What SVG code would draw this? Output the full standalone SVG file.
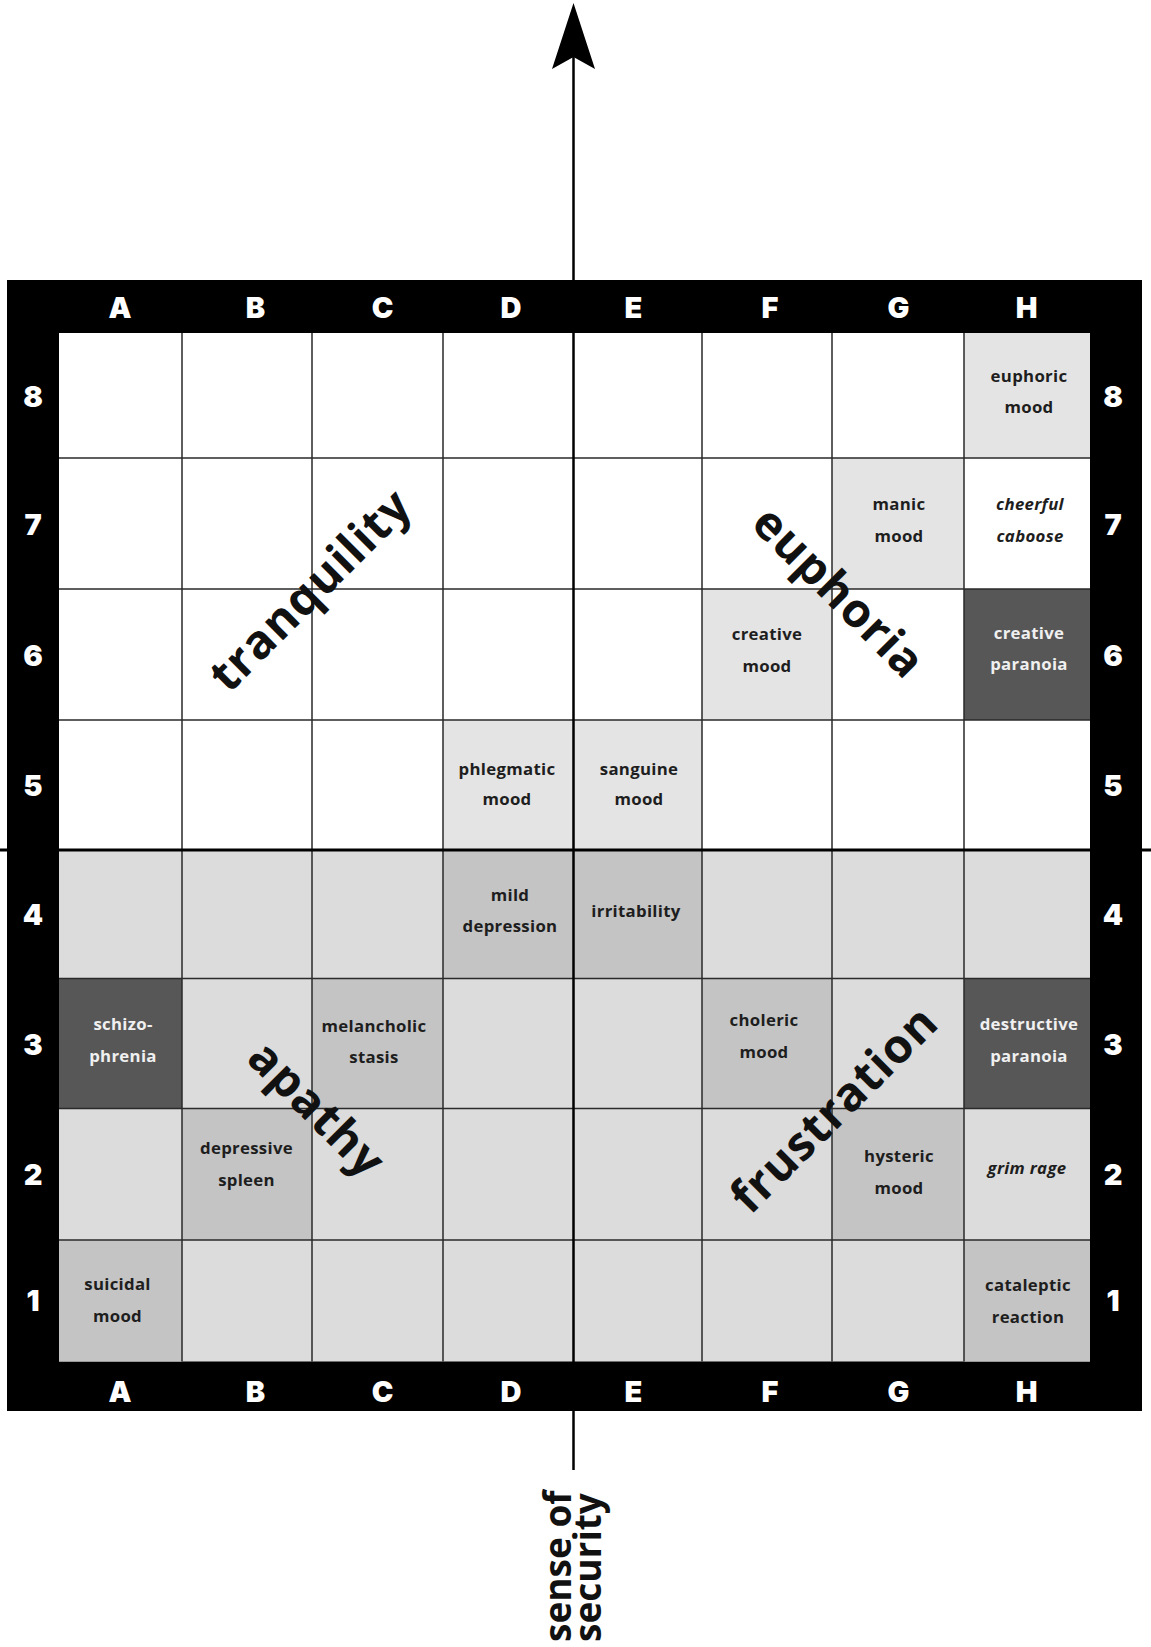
<svg xmlns="http://www.w3.org/2000/svg" width="1151" height="1647" viewBox="0 0 1151 1647">
<style>
.lbl{font-family:Inter,"Liberation Sans",sans-serif;font-weight:900;font-size:29px;fill:#fff;text-anchor:middle}
.t{font-family:"Open Sans","Noto Sans",sans-serif;font-weight:700;font-size:16.8px;letter-spacing:0.3px;fill:#1e1e1e;text-anchor:middle}
.w{fill:#f0f0f0}
.i{font-style:italic}
.big{font-family:"Open Sans","Noto Sans",sans-serif;font-weight:700;font-size:47px;letter-spacing:1px;fill:#111;text-anchor:middle}
.ax{font-family:"Open Sans","Noto Sans",sans-serif;font-weight:700;font-size:37px;fill:#111}
.lt{fill:#e4e4e4}.md{fill:#c4c4c4}.dk{fill:#575757}
.grid{stroke:#2a2a2a;stroke-width:1.5;fill:none}
</style>
<rect width="1151" height="1647" fill="#fff"/>
<g id="frame">
<rect x="7" y="280" width="1135" height="1131" fill="#000"/>
<rect x="59" y="333" width="1031" height="517" fill="#fff"/>
<rect x="59" y="850" width="1031" height="511.5" fill="#dcdcdc"/>
</g>
<g id="cells">
<g id="H8"><rect class="lt" x="964" y="333" width="126" height="125"/><text class="t" x="1029" y="382">euphoric</text><text class="t" x="1029" y="413">mood</text></g>
<g id="G7"><rect class="lt" x="832" y="458" width="132" height="131"/><text class="t" x="899" y="510">manic</text><text class="t" x="899" y="541.5">mood</text></g>
<g id="H7"><text class="t i" x="1030" y="510">cheerful</text><text class="t i" x="1030" y="541.5">caboose</text></g>
<g id="F6"><rect class="lt" x="702" y="589" width="130" height="131"/><text class="t" x="767" y="640">creative</text><text class="t" x="767" y="671.5">mood</text></g>
<g id="H6"><rect class="dk" x="964" y="589" width="126" height="131"/><text class="t w" x="1029" y="638.5">creative</text><text class="t w" x="1029" y="670">paranoia</text></g>
<g id="D5"><rect class="lt" x="443" y="720" width="130.5" height="130"/><text class="t" x="507" y="775">phlegmatic</text><text class="t" x="507" y="805">mood</text></g>
<g id="E5"><rect class="lt" x="573.5" y="720" width="128.5" height="130"/><text class="t" x="639" y="775">sanguine</text><text class="t" x="639" y="805">mood</text></g>
<g id="D4"><rect class="md" x="443" y="850" width="130.5" height="128.5"/><text class="t" x="510" y="900.5">mild</text><text class="t" x="510" y="932">depression</text></g>
<g id="E4"><rect class="md" x="573.5" y="850" width="128.5" height="128.5"/><text class="t" x="636" y="917">irritability</text></g>
<g id="A3"><rect class="dk" x="59" y="978.5" width="123" height="130"/><text class="t w" x="123" y="1030">schizo-</text><text class="t w" x="123" y="1061.5">phrenia</text></g>
<g id="C3"><rect class="md" x="312" y="978.5" width="131" height="130"/><text class="t" x="374" y="1031.5">melancholic</text><text class="t" x="374" y="1063">stasis</text></g>
<g id="F3"><rect class="md" x="702" y="978.5" width="130" height="130"/><text class="t" x="764" y="1026">choleric</text><text class="t" x="764" y="1057.5">mood</text></g>
<g id="H3"><rect class="dk" x="964" y="978.5" width="126" height="130"/><text class="t w" x="1029" y="1030">destructive</text><text class="t w" x="1029" y="1061.5">paranoia</text></g>
<g id="B2"><rect class="md" x="182" y="1108.5" width="130" height="131.5"/><text class="t" x="246.5" y="1154">depressive</text><text class="t" x="246.5" y="1186">spleen</text></g>
<g id="G2"><rect class="md" x="832" y="1108.5" width="132" height="131.5"/><text class="t" x="899" y="1162">hysteric</text><text class="t" x="899" y="1194">mood</text></g>
<g id="H2"><text class="t i" x="1027" y="1174">grim rage</text></g>
<g id="A1"><rect class="md" x="59" y="1240" width="123" height="121.5"/><text class="t" x="117.5" y="1290">suicidal</text><text class="t" x="117.5" y="1321.5">mood</text></g>
<g id="H1"><rect class="md" x="964" y="1240" width="126" height="121.5"/><text class="t" x="1028" y="1291">cataleptic</text><text class="t" x="1028" y="1322.5">reaction</text></g>
</g>
<path class="grid" d="M182 333V1361.5M312 333V1361.5M443 333V1361.5M702 333V1361.5M832 333V1361.5M964 333V1361.5M59 458H1090M59 589H1090M59 720H1090M59 978.5H1090M59 1108.5H1090M59 1240H1090"/>
<g id="labels">
<text class="lbl" x="120" y="317.5">A</text><text class="lbl" x="255.5" y="317.5">B</text><text class="lbl" x="382.5" y="317.5">C</text><text class="lbl" x="511" y="317.5">D</text><text class="lbl" x="633.5" y="317.5">E</text><text class="lbl" x="770" y="317.5">F</text><text class="lbl" x="898.5" y="317.5">G</text><text class="lbl" x="1026.5" y="317.5">H</text>
<text class="lbl" x="120" y="1401.5">A</text><text class="lbl" x="255.5" y="1401.5">B</text><text class="lbl" x="382.5" y="1401.5">C</text><text class="lbl" x="511" y="1401.5">D</text><text class="lbl" x="633.5" y="1401.5">E</text><text class="lbl" x="770" y="1401.5">F</text><text class="lbl" x="898.5" y="1401.5">G</text><text class="lbl" x="1026.5" y="1401.5">H</text>
<text class="lbl" x="33" y="407">8</text><text class="lbl" x="33" y="535">7</text><text class="lbl" x="33" y="666">6</text><text class="lbl" x="33" y="796">5</text><text class="lbl" x="33" y="925">4</text><text class="lbl" x="33" y="1054.5">3</text><text class="lbl" x="33" y="1185">2</text><text class="lbl" x="33" y="1311">1</text>
<text class="lbl" x="1113" y="407">8</text><text class="lbl" x="1113" y="535">7</text><text class="lbl" x="1113" y="666">6</text><text class="lbl" x="1113" y="796">5</text><text class="lbl" x="1113" y="925">4</text><text class="lbl" x="1113" y="1054.5">3</text><text class="lbl" x="1113" y="1185">2</text><text class="lbl" x="1113" y="1311">1</text>
</g>
<g id="regions">
<text class="big" transform="translate(311 591) rotate(-45)" y="15">tranquility</text>
<text class="big" transform="translate(838 593) rotate(45)" y="15">euphoria</text>
<text class="big" transform="translate(316 1110) rotate(45)" y="15">apathy</text>
<text class="big" transform="translate(835 1110) rotate(-45)" y="15">frustration</text>
</g>
<g id="connectors">
<line x1="0" y1="850" x2="1151" y2="850" stroke="#000" stroke-width="3"/>
<line x1="573.5" y1="57" x2="573.5" y2="1470" stroke="#000" stroke-width="2.5"/>
<polygon points="573.5,3 595,69 573.5,57 552,69" fill="#000"/>
</g>
<g id="axis-label">
<text class="ax" transform="translate(571 1642) rotate(-90)"><tspan x="0" y="0">sense of</tspan><tspan x="0" y="29.5">security</tspan></text>
</g>
</svg>
